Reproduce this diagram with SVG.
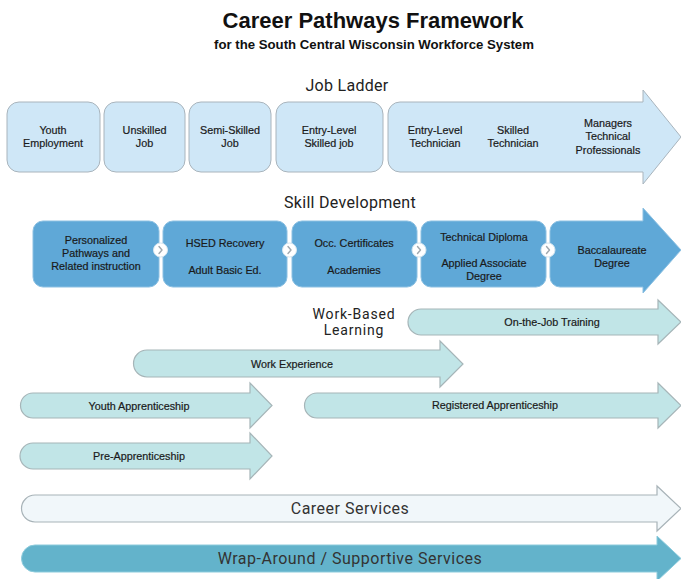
<svg xmlns="http://www.w3.org/2000/svg" width="681" height="579" viewBox="0 0 681 579">
  <style>
    .title { font-family: "Liberation Sans", Arial, sans-serif; font-weight: bold; fill: #111; text-anchor: middle; }
    .section { font-family: Roboto, "Liberation Sans", sans-serif; font-size: 16px; letter-spacing: 0.3px; fill: #222; text-anchor: middle; }
    .wbl-title { font-family: Roboto, "Liberation Sans", sans-serif; font-size: 14px; letter-spacing: 0.8px; fill: #222; text-anchor: middle; }
    .lbl { font-family: "Liberation Sans", Arial, sans-serif; font-size: 10.8px; fill: #1a1a1a; stroke: #1a1a1a; stroke-width: 0.2px; text-anchor: middle; }
    .band { font-family: Roboto, "Liberation Sans", sans-serif; font-size: 16px; letter-spacing: 0.5px; fill: #333; text-anchor: middle; }
    .job { fill: #cfe7f7; stroke: #a9b4bc; stroke-width: 1; }
    .skill { fill: #5fa8d7; stroke: #8cc0e2; stroke-width: 1; }
    .wbl { fill: #c1e5e7; stroke: #a6b5b8; stroke-width: 1.2; }
    .career { fill: #f1f7fa; stroke: #a8b3b8; stroke-width: 1.2; }
    .wrap { fill: #63b3cb; stroke: #8ccbdc; stroke-width: 1; }
    .dot { fill: #ffffff; stroke: #d6e6f0; stroke-width: 1; }
    .chev { fill: none; stroke: #a0a8ae; stroke-width: 1.4; stroke-linecap: round; stroke-linejoin: round; }
  </style>

  <!-- Heading -->
  <g id="heading">
    <text class="title" x="373" y="28" font-size="22">Career Pathways Framework</text>
    <text class="title" x="374" y="49" font-size="13.2">for the South Central Wisconsin Workforce System</text>
  </g>

  <!-- Job Ladder -->
  <g id="job-ladder">
    <text class="section" x="347" y="91">Job Ladder</text>
    <g id="youth-employment">
      <rect class="job" x="7" y="102" width="93" height="70" rx="12"/>
      <text class="lbl" x="53" y="133.5">Youth</text>
      <text class="lbl" x="53" y="146.5">Employment</text>
    </g>
    <g id="unskilled-job">
      <rect class="job" x="104" y="102" width="81" height="70" rx="12"/>
      <text class="lbl" x="144.5" y="133.5">Unskilled</text>
      <text class="lbl" x="144.5" y="146.5">Job</text>
    </g>
    <g id="semi-skilled-job">
      <rect class="job" x="189" y="102" width="82" height="70" rx="12"/>
      <text class="lbl" x="230" y="133.5">Semi-Skilled</text>
      <text class="lbl" x="230" y="146.5">Job</text>
    </g>
    <g id="entry-level-skilled">
      <rect class="job" x="276" y="102" width="107" height="70" rx="12"/>
      <text class="lbl" x="329" y="133.5">Entry-Level</text>
      <text class="lbl" x="329" y="146.5">Skilled job</text>
    </g>
    <g id="technician-arrow">
      <path class="job" d="M400,102 H643 V90 L681,137 L643,184 V172 H400 A12,12 0 0 1 388,160 V114 A12,12 0 0 1 400,102 Z"/>
      <text class="lbl" x="435" y="133.5">Entry-Level</text>
      <text class="lbl" x="435" y="146.5">Technician</text>
      <text class="lbl" x="513" y="133.5">Skilled</text>
      <text class="lbl" x="513" y="146.5">Technician</text>
      <text class="lbl" x="608" y="126.5">Managers</text>
      <text class="lbl" x="608" y="140">Technical</text>
      <text class="lbl" x="608" y="153.5">Professionals</text>
    </g>
  </g>

  <!-- Skill Development -->
  <g id="skill-development">
    <text class="section" x="350" y="208">Skill Development</text>
    <g id="personalized-pathways">
      <rect class="skill" x="33" y="221" width="126" height="66" rx="10"/>
      <text class="lbl" x="96" y="243.5">Personalized</text>
      <text class="lbl" x="96" y="256.5">Pathways and</text>
      <text class="lbl" x="96" y="269.5">Related instruction</text>
    </g>
    <g id="hsed-recovery">
      <rect class="skill" x="163" y="221" width="124" height="66" rx="10"/>
      <text class="lbl" x="225" y="246.5">HSED Recovery</text>
      <text class="lbl" x="225" y="273.5">Adult Basic Ed.</text>
    </g>
    <g id="occ-certificates">
      <rect class="skill" x="292" y="221" width="125" height="66" rx="10"/>
      <text class="lbl" x="354" y="246.5">Occ. Certificates</text>
      <text class="lbl" x="354" y="273.5">Academies</text>
    </g>
    <g id="technical-diploma">
      <rect class="skill" x="421" y="221" width="125" height="66" rx="10"/>
      <text class="lbl" x="484" y="240.5">Technical Diploma</text>
      <text class="lbl" x="484" y="266.5">Applied Associate</text>
      <text class="lbl" x="484" y="279.5">Degree</text>
    </g>
    <g id="baccalaureate">
      <path class="skill" d="M560,221 H643 V208 L681,250 L643,293 V287 H560 A10,10 0 0 1 550,277 V231 A10,10 0 0 1 560,221 Z"/>
      <text class="lbl" x="612" y="253.5">Baccalaureate</text>
      <text class="lbl" x="612" y="266.5">Degree</text>
    </g>
  </g>

  <!-- Step markers between the skill boxes -->
  <g id="connectors">
    <circle class="dot" cx="160.5" cy="250" r="7"/>
    <path class="chev" d="M159,246.5 L162,250 L159,253.5"/>
    <circle class="dot" cx="289.5" cy="250" r="7"/>
    <path class="chev" d="M288,246.5 L291,250 L288,253.5"/>
    <circle class="dot" cx="419" cy="250" r="7"/>
    <path class="chev" d="M417.5,246.5 L420.5,250 L417.5,253.5"/>
    <circle class="dot" cx="548" cy="250" r="7"/>
    <path class="chev" d="M546.5,246.5 L549.5,250 L546.5,253.5"/>
  </g>

  <!-- Work-Based Learning -->
  <g id="work-based-learning">
    <text class="wbl-title" x="354" y="319">Work-Based</text>
    <text class="wbl-title" x="354" y="335">Learning</text>
    <g id="on-the-job-training">
      <path class="wbl" d="M421,309 H658 V300 L681,322 L658,344 V335 H421 A13,13 0 0 1 421,309 Z"/>
      <text class="lbl" x="552" y="325.5">On-the-Job Training</text>
    </g>
    <g id="work-experience">
      <path class="wbl" d="M147,350 H440 V341 L463,364 L440,387 V377 H147 A13.5,13.5 0 0 1 147,350 Z"/>
      <text class="lbl" x="292" y="367.5">Work Experience</text>
    </g>
    <g id="youth-apprenticeship">
      <path class="wbl" d="M33,393 H250 V383 L272,405.5 L250,428 V418 H33 A12.5,12.5 0 0 1 33,393 Z"/>
      <text class="lbl" x="139" y="409.5">Youth Apprenticeship</text>
    </g>
    <g id="registered-apprenticeship">
      <path class="wbl" d="M317,393 H658 V383 L681,405.5 L658,428 V418 H317 A12.5,12.5 0 0 1 317,393 Z"/>
      <text class="lbl" x="495" y="408.5">Registered Apprenticeship</text>
    </g>
    <g id="pre-apprenticeship">
      <path class="wbl" d="M33,443 H250 V433 L272,456 L250,479 V469 H33 A13,13 0 0 1 33,443 Z"/>
      <text class="lbl" x="139" y="459.5">Pre-Apprenticeship</text>
    </g>
  </g>

  <!-- Service bands -->
  <g id="career-services">
    <path class="career" d="M35,495 H657 V486 L681,508.5 L657,531 V522 H35 A13.5,13.5 0 0 1 35,495 Z"/>
    <text class="band" x="350" y="514">Career Services</text>
  </g>
  <g id="supportive-services">
    <path class="wrap" d="M35,545 H657 V536 L681,558.5 L657,581 V572 H35 A13.5,13.5 0 0 1 35,545 Z"/>
    <text class="band" x="350" y="564">Wrap-Around / Supportive Services</text>
  </g>
</svg>
